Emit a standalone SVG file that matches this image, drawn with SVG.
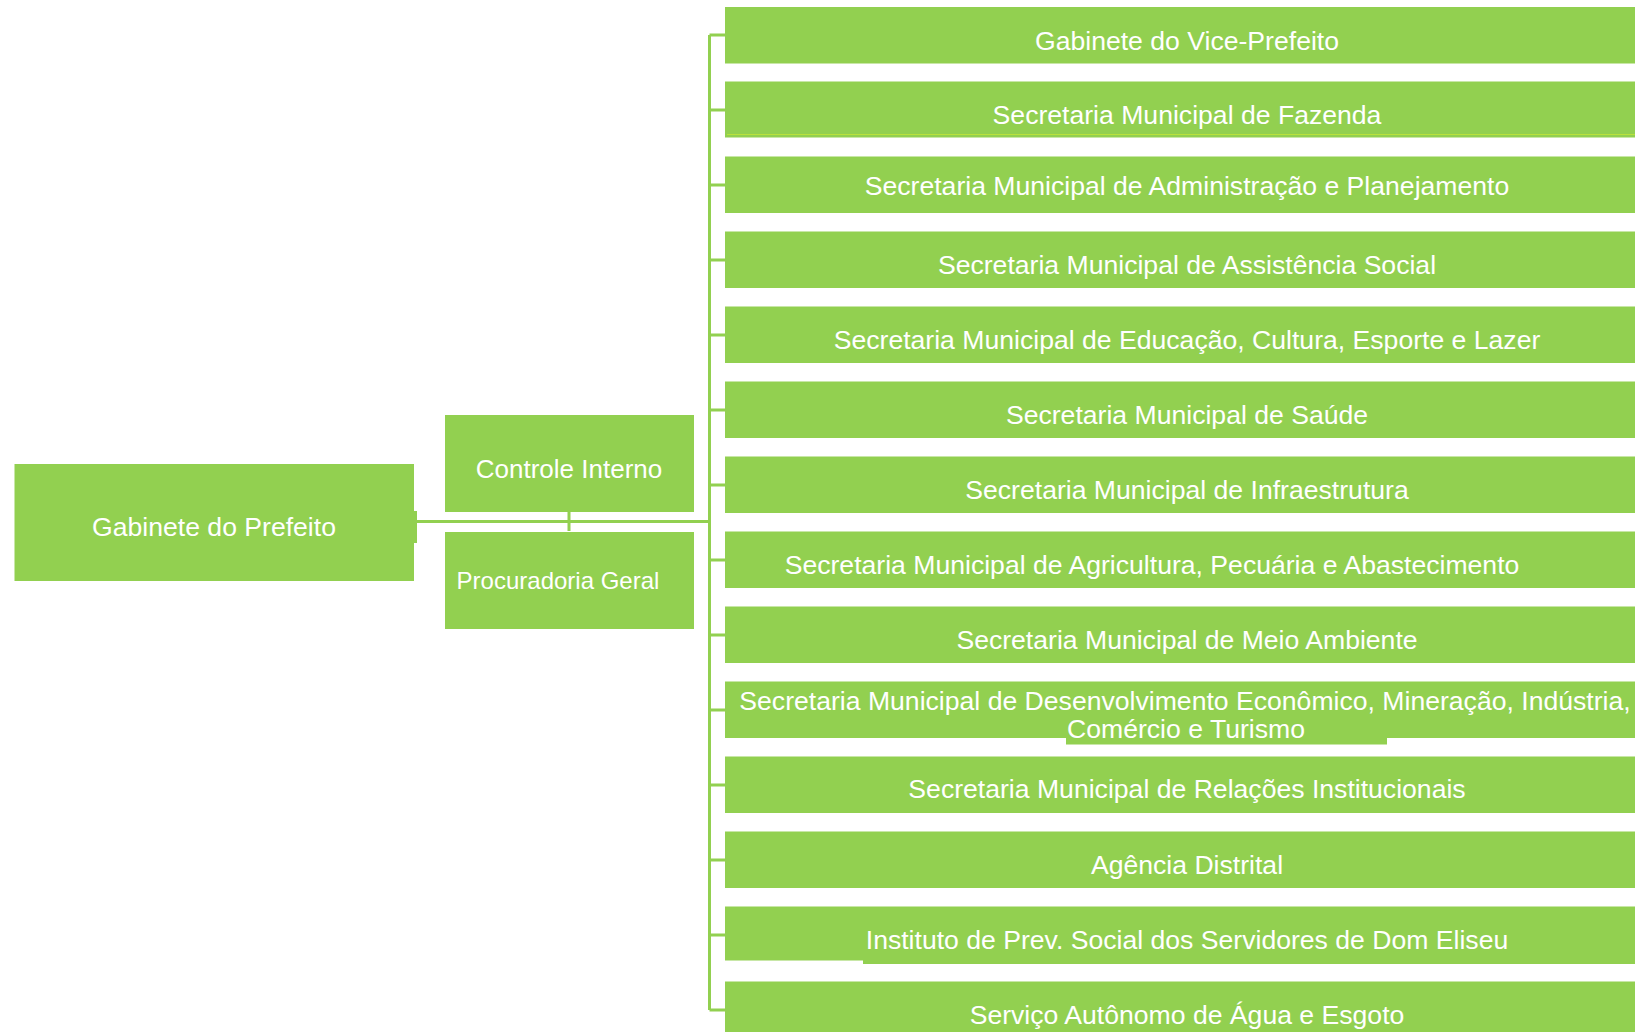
<svg xmlns="http://www.w3.org/2000/svg" width="1635" height="1032" viewBox="0 0 1635 1032">
<style>
.box{fill:#92D050}
.t{fill:#ffffff;font-family:"Liberation Sans",Arial,sans-serif;font-size:26.6px;text-anchor:middle}
.c{stroke:#92D050;stroke-width:3;fill:none}
</style>
<rect width="1635" height="1032" fill="#ffffff"/>
<g id="connectors">
<path class="c" d="M417 521.5H709.5M569 512V531M709.5 35V1010"/>
<path class="c" d="M709.5 35H725M709.5 110H725M709.5 185H725M709.5 260H725M709.5 335H725M709.5 410H725M709.5 485H725M709.5 560H725M709.5 635H725M709.5 710H725M709.5 785H725M709.5 860H725M709.5 935H725M709.5 1010H725"/>
</g>
<g id="gabinete-prefeito">
<rect class="box" x="14.5" y="464" width="399.5" height="117"/>
<rect class="box" x="413" y="511" width="4" height="32"/>
<text class="t" x="214" y="536">Gabinete do Prefeito</text>
</g>
<g id="controle-interno">
<rect class="box" x="445" y="415" width="249" height="97"/>
<text class="t" x="569" y="478" style="font-size:26px">Controle Interno</text>
</g>
<g id="procuradoria-geral">
<rect class="box" x="445" y="532" width="249" height="97"/>
<text class="t" x="558" y="589" style="font-size:24px">Procuradoria Geral</text>
</g>
<g id="n1"><rect class="box" x="725" y="7" width="930" height="56.5"/><text class="t" x="1187" y="50">Gabinete do Vice-Prefeito</text></g>
<g id="n2"><rect class="box" x="725" y="81.5" width="930" height="56"/><line x1="727" y1="134.5" x2="1635" y2="134.5" stroke="#B9E13C" stroke-width="1"/><text class="t" x="1187" y="124">Secretaria Municipal de Fazenda</text></g>
<g id="n3"><rect class="box" x="725" y="156.5" width="930" height="56.5"/><text class="t" x="1187" y="195">Secretaria Municipal de Administração e Planejamento</text></g>
<g id="n4"><rect class="box" x="725" y="231.5" width="930" height="56.5"/><text class="t" x="1187" y="274">Secretaria Municipal de Assistência Social</text></g>
<g id="n5"><rect class="box" x="725" y="306.5" width="930" height="56.5"/><text class="t" x="1187" y="349">Secretaria Municipal de Educação, Cultura, Esporte e Lazer</text></g>
<g id="n6"><rect class="box" x="725" y="381.5" width="930" height="56.5"/><text class="t" x="1187" y="424">Secretaria Municipal de Saúde</text></g>
<g id="n7"><rect class="box" x="725" y="456.5" width="930" height="56.5"/><text class="t" x="1187" y="499">Secretaria Municipal de Infraestrutura</text></g>
<g id="n8"><rect class="box" x="725" y="531.5" width="930" height="56.5"/><text class="t" x="1152" y="574">Secretaria Municipal de Agricultura, Pecuária e Abastecimento</text></g>
<g id="n9"><rect class="box" x="725" y="606.5" width="930" height="56.5"/><text class="t" x="1187" y="649">Secretaria Municipal de Meio Ambiente</text></g>
<g id="n10"><rect class="box" x="725" y="681.5" width="930" height="56.5"/><rect class="box" x="1066" y="735" width="321" height="9.5"/><text class="t" x="1185" y="710">Secretaria Municipal de Desenvolvimento Econômico, Mineração, Indústria,</text><text class="t" x="1186" y="738">Comércio e Turismo</text></g>
<g id="n11"><rect class="box" x="725" y="756.5" width="930" height="56.5"/><text class="t" x="1187" y="798">Secretaria Municipal de Relações Institucionais</text></g>
<g id="n12"><rect class="box" x="725" y="831.5" width="930" height="56.5"/><text class="t" x="1187" y="874">Agência Distrital</text></g>
<g id="n13"><rect class="box" x="725" y="906.5" width="930" height="54"/><rect class="box" x="863" y="958" width="792" height="6"/><text class="t" x="1187" y="949">Instituto de Prev. Social dos Servidores de Dom Eliseu</text></g>
<g id="n14"><rect class="box" x="725" y="981.5" width="930" height="56.5"/><text class="t" x="1187" y="1023.5">Serviço Autônomo de Água e Esgoto</text></g>
</svg>
